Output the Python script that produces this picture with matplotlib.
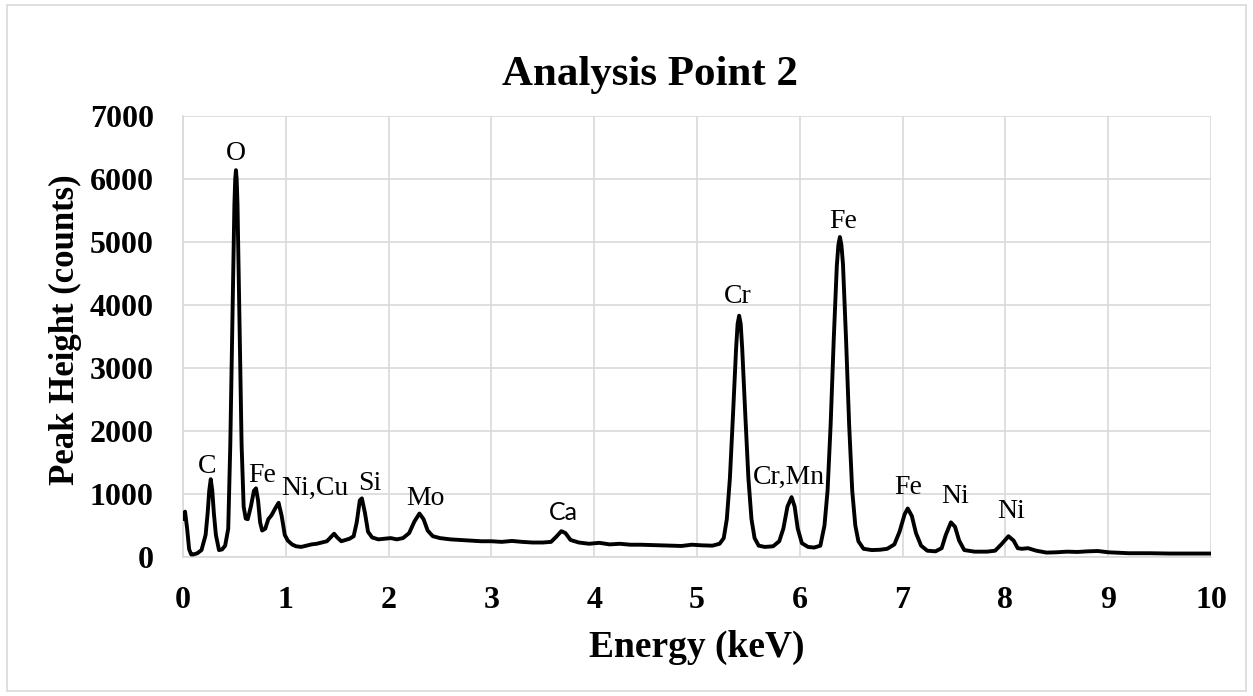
import matplotlib
matplotlib.use("Agg")
import matplotlib.pyplot as plt
from matplotlib.patches import Rectangle

# ---- data ----
energy_kev = [
    0.00, 0.02, 0.04, 0.06, 0.08, 0.10, 0.14, 0.18, 0.22, 0.24, 0.255, 0.27, 0.285, 0.30, 0.32, 0.35,
    0.38, 0.41, 0.44, 0.46, 0.48, 0.50, 0.508, 0.515, 0.522, 0.53, 0.55, 0.57, 0.59, 0.61, 0.63, 0.66,
    0.69, 0.71, 0.73, 0.75, 0.77, 0.80, 0.83, 0.86, 0.90, 0.93, 0.96, 0.99, 1.02, 1.06, 1.10, 1.15,
    1.20, 1.25, 1.30, 1.35, 1.40, 1.44, 1.47, 1.50, 1.54, 1.58, 1.62, 1.66, 1.69, 1.72, 1.74, 1.77,
    1.80, 1.84, 1.90, 1.96, 2.02, 2.08, 2.14, 2.20, 2.25, 2.30, 2.34, 2.38, 2.43, 2.50, 2.60, 2.70,
    2.80, 2.90, 3.00, 3.10, 3.20, 3.30, 3.40, 3.50, 3.58, 3.63, 3.68, 3.72, 3.77, 3.85, 3.95, 4.05,
    4.15, 4.25, 4.35, 4.45, 4.55, 4.65, 4.75, 4.85, 4.95, 5.05, 5.15, 5.22, 5.26, 5.29, 5.32, 5.35,
    5.38, 5.395, 5.41, 5.425, 5.44, 5.47, 5.50, 5.53, 5.56, 5.60, 5.66, 5.74, 5.80, 5.84, 5.88, 5.92,
    5.95, 5.98, 6.02, 6.08, 6.14, 6.20, 6.24, 6.27, 6.30, 6.33, 6.36, 6.375, 6.39, 6.405, 6.42, 6.45,
    6.48, 6.51, 6.54, 6.57, 6.62, 6.70, 6.78, 6.85, 6.92, 6.97, 7.02, 7.05, 7.09, 7.13, 7.18, 7.24,
    7.32, 7.38, 7.42, 7.47, 7.51, 7.55, 7.60, 7.70, 7.82, 7.90, 7.96, 8.03, 8.08, 8.12, 8.16, 8.22,
    8.30, 8.40, 8.50, 8.60, 8.70, 8.80, 8.90, 9.00, 9.20, 9.40, 9.60, 9.80, 10.00,
]
counts = [
    600, 720, 450, 120, 40, 40, 60, 110, 350, 700, 1050, 1235, 1050, 700, 350, 110,
    120, 180, 450, 1780, 3730, 5600, 6000, 6140, 6000, 5600, 3730, 1780, 800, 610, 600, 800,
    1050, 1090, 900, 550, 420, 450, 600, 660, 780, 860, 650, 350, 260, 200, 170, 160,
    180, 200, 210, 230, 250, 320, 370, 310, 250, 270, 290, 330, 550, 900, 930, 700,
    400, 310, 280, 290, 300, 280, 300, 380, 560, 690, 600, 420, 330, 300, 280, 270,
    260, 250, 250, 240, 255, 240, 230, 230, 240, 320, 410, 380, 270, 230, 210, 225,
    200, 210, 195, 195, 190, 185, 180, 175, 195, 185, 180, 210, 300, 600, 1250, 2250,
    3300, 3700, 3830, 3700, 3300, 2250, 1250, 600, 300, 180, 160, 170, 250, 450, 800, 950,
    800, 450, 220, 160, 150, 180, 500, 1050, 2100, 3450, 4620, 4950, 5080, 4950, 4650, 3450,
    2100, 1050, 500, 250, 130, 110, 115, 130, 200, 400, 680, 770, 650, 380, 180, 100,
    90, 140, 350, 550, 480, 260, 110, 85, 85, 100, 200, 330, 260, 140, 130, 140,
    100, 70, 75, 85, 80, 90, 95, 75, 60, 60, 55, 55, 55,
]

peak_labels = ["C", "O", "Fe", "Ni,Cu", "Si", "Mo", "Ca", "Cr", "Cr,Mn", "Fe", "Fe", "Ni", "Ni"]
label_x = [0.23, 0.515, 0.77, 1.28, 1.82, 2.36, 3.70, 5.40, 5.89, 6.42, 7.05, 7.51, 8.06]
label_y = [1430, 6410, 1300, 1095, 1170, 935, 700, 4130, 1270, 5320, 1110, 955, 720]

x_ticks = list(range(0, 11))
y_ticks = list(range(0, 7001, 1000))

title = "Analysis Point 2"
x_label = "Energy (keV)"
y_label = "Peak Height (counts)"

# ---- figure ----
serif = ["Liberation Serif", "DejaVu Serif"]
W, H = 1253, 696
fig = plt.figure(figsize=(W / 100, H / 100), dpi=100)
fig.patch.set_facecolor("white")
fig.patches.append(Rectangle((7 / W, 5 / H), (1246 - 7) / W, (691 - 5) / H,
                             transform=fig.transFigure, fill=False,
                             edgecolor="#d9d9d9", linewidth=1.2))

ax = fig.add_axes([183 / W, 1 - 557 / H, (1211 - 183) / W, (557 - 116) / H])
ax.plot(energy_kev, counts, color="black", linewidth=2.8,
        solid_joinstyle="round", solid_capstyle="round", zorder=3)

ax.set_xlim(0, 10)
ax.set_ylim(0, 7000)
ax.set_xticks(x_ticks)
ax.set_yticks(y_ticks)
ax.grid(True, color="#d9d9d9", linewidth=1.2)
ax.set_axisbelow(True)
for s in ax.spines.values():
    s.set_visible(False)
for side in ("bottom", "left"):
    ax.spines[side].set_visible(True)
    ax.spines[side].set_color("#d9d9d9")
    ax.spines[side].set_linewidth(1.2)
ax.tick_params(length=0)
ax.tick_params(axis="x", pad=21)
ax.tick_params(axis="y", pad=21)
for lab in ax.get_xticklabels() + ax.get_yticklabels():
    lab.set_fontfamily(serif)
    lab.set_fontweight("bold")
    lab.set_fontsize(23)

for t, xx, yy in zip(peak_labels, label_x, label_y):
    if t == "Ca":
        ax.text(xx, yy, t, ha="center", va="center", fontsize=18,
                family=["Lato", "DejaVu Sans"], zorder=4)
    else:
        ax.text(xx, yy, t, ha="center", va="center", fontsize=20,
                family=serif, zorder=4)

fig.text(650 / W, 1 - 75 / H, title, ha="center", va="center",
         fontsize=31, fontweight="bold", family=serif)
fig.text(697 / W, 1 - 647 / H, x_label, ha="center", va="center",
         fontsize=27, fontweight="bold", family=serif)
fig.text(65 / W, 1 - 330 / H, y_label, ha="center", va="center", rotation=90,
         fontsize=25, fontweight="bold", family=serif)

fig.savefig("out.png", dpi=100, facecolor="white")
